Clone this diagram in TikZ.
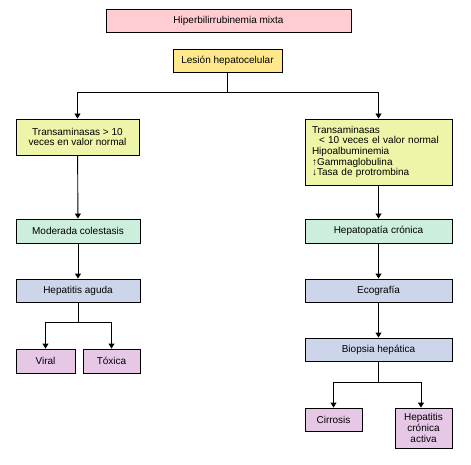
\documentclass[tikz,border=0pt]{standalone}
\usepackage{fontspec}
\setmainfont{Liberation Sans}
\usetikzlibrary{arrows.meta, positioning, calc}
\usepackage{xcolor}

\definecolor{rosa}{HTML}{FFCCD2}
\definecolor{amarelo}{HTML}{FFE88C}
\definecolor{limao}{HTML}{EEF5A8}
\definecolor{menta}{HTML}{CCEEDD}
\definecolor{azul}{HTML}{CCD5EA}
\definecolor{lilas}{HTML}{E6C8E6}

\begin{document}
\begin{tikzpicture}[
    x=1pt, y=-1pt,
    every node/.style={font=\fontsize{10}{10.6}\selectfont},
    caixa/.style={
        draw=black,
        line width=0.9pt,
        inner sep=2pt,
        align=center
    },
    seta/.style={
        draw=black,
        line width=0.9pt,
        -{Triangle[length=5pt,width=6pt]}
    },
    liga/.style={
        draw=black,
        line width=0.9pt
    }
]

\useasboundingbox (0,0) rectangle (471,465);

% ============================================================
% TOPO
% ============================================================

\node[
    caixa,
    fill=rosa,
    minimum width=245pt,
    minimum height=23pt
] (titulo) at (228.5,20.5)
{Hiperbilirrubinemia mixta};

\node[
    caixa,
    fill=amarelo,
    minimum width=109pt,
    minimum height=23pt
] (lesion) at (227.5,60.5)
{Lesión hepatocelular};

% ============================================================
% RAMO ESQUERDO
% ============================================================

\node[
    caixa,
    fill=limao,
    minimum width=123pt,
    minimum height=36pt
] (trans1) at (77.5,137)
{Transaminasas > 10\\veces en valor normal};

\node[
    caixa,
    fill=menta,
    minimum width=124pt,
    minimum height=24pt
] (moderada) at (78,231)
{Moderada colestasis};

\node[
    caixa,
    fill=azul,
    minimum width=124pt,
    minimum height=23pt
] (aguda) at (78,290.5)
{Hepatitis aguda};

\node[
    caixa,
    fill=lilas,
    minimum width=59pt,
    minimum height=24pt
] (viral) at (45.5,361)
{Viral};

\node[
    caixa,
    fill=lilas,
    minimum width=57pt,
    minimum height=24pt
] (toxica) at (111.5,361)
{Tóxica};

% ============================================================
% RAMO DIREITO
% ============================================================

\node[
    caixa,
    fill=limao,
    minimum width=147pt,
    minimum height=66pt,
    align=left,
    inner xsep=7pt,
    text width=133pt
] (trans2) at (378.5,152)
{
Transaminasas\\
\hspace*{7pt}< 10 veces el valor normal\\
Hipoalbuminemia\\
\textbf{↑}Gammaglobulina\\
\textbf{↓}Tasa de protrombina
};

\node[
    caixa,
    fill=menta,
    minimum width=147pt,
    minimum height=24pt
] (cronica) at (378.5,231)
{Hepatopatía crónica};

\node[
    caixa,
    fill=azul,
    minimum width=147pt,
    minimum height=23pt
] (eco) at (378.5,290.5)
{Ecografía};

\node[
    caixa,
    fill=azul,
    minimum width=147pt,
    minimum height=23pt
] (biopsia) at (378.5,349.5)
{Biopsia hepática};

\node[
    caixa,
    fill=lilas,
    minimum width=57pt,
    minimum height=23pt
] (cirrosis) at (333.5,419.5)
{Cirrosis};

\node[
    caixa,
    fill=lilas,
    minimum width=57pt,
    minimum height=40pt,
    font=\fontsize{10}{11}\selectfont
] (activa) at (423.5,428)
{Hepatitis\\crónica\\activa};

% ============================================================
% LIGACOES
% ============================================================

\coordinate (garfo1) at (227.5,92);
\coordinate (garfo2) at (78,322);
\coordinate (garfo3) at (378.5,382);

\draw[liga] (lesion.south) -- (garfo1);
\draw[seta] (garfo1) -| (trans1.north);
\draw[seta] (garfo1) -| (trans2.north);

\draw[seta] (trans1) -- (moderada);
\draw[seta] (moderada) -- (aguda);

\draw[liga] (aguda.south) -- (garfo2);
\draw[seta] (garfo2) -| (viral.north);
\draw[seta] (garfo2) -| (toxica.north);

\draw[seta] (trans2) -- (cronica);
\draw[seta] (cronica) -- (eco);
\draw[seta] (eco) -- (biopsia);

\draw[liga] (biopsia.south) -- (garfo3);
\draw[seta] (garfo3) -| (cirrosis.north);
\draw[seta] (garfo3) -| ([xshift=-2.5pt]activa.north);

\end{tikzpicture}
\end{document}
